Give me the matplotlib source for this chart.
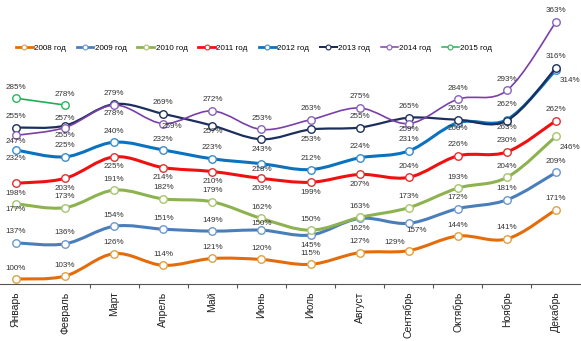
import numpy as np
import matplotlib.pyplot as plt
from matplotlib.path import Path
from matplotlib.patches import PathPatch
from matplotlib.lines import Line2D

plt.rcParams['font.family'] = ['Liberation Sans', 'DejaVu Sans']

months = ['Январь', 'Февраль', 'Март', 'Апрель', 'Май', 'Июнь', 'Июль',
          'Август', 'Сентябрь', 'Октябрь', 'Ноябрь', 'Декабрь']

years = ['2008 год', '2009 год', '2010 год', '2011 год',
         '2012 год', '2013 год', '2014 год', '2015 год']

v2008 = [100, 103, 126, 114, 121, 120, 115, 127, 129, 144, 141, 171]
v2009 = [137, 136, 154, 151, 149, 150, 145, 162, 157, 172, 181, 209]
v2010 = [177, 173, 191, 182, 179, 162, 150, 163, 173, 193, 204, 246]
v2011 = [198, 203, 225, 214, 210, 203, 199, 207, 204, 226, 230, 262]
v2012 = [232, 225, 240, 232, 223, 218, 212, 224, 231, 260, 263, 314]
v2013 = [255, 257, 279, 269, 257, 243, 253, 255, 265, 263, 262, 316]
v2014 = [247, 255, 278, 259, 272, 253, 263, 275, 259, 284, 293, 363]
v2015 = [285, 278]

# положение подписей у каждой точки (коды см. offsets ниже)
p2008 = 'aaaaaaaalaaa'
p2009 = 'aaaaakbbgaaa'
p2010 = 'caaaaaaaaaar'
p2011 = 'bbbbbbbbaaaa'
p2012 = 'daaaacaaacdr'
p2013 = 'akaacbbaaaha'
p2014 = 'cddeaaaacaaa'
p2015 = 'aa'

colors = ['#E46C0A', '#4A7EBB', '#8DB250', '#F01010',
          '#0A72BE', '#1C2F5C', '#7A3FA8', '#1DB055']
edge_colors = ['#DDA240', '#6C98CC', '#A9C46E', '#E03030',
               '#3A8CCB', '#1C2F5C', '#8A62B8', '#2DB35A']
widths = [2.2, 2.2, 2.2, 2.2, 2.2, 1.6, 1.2, 1.2]

series = [v2008, v2009, v2010, v2011, v2012, v2013, v2014, v2015]
places = [p2008, p2009, p2010, p2011, p2012, p2013, p2014, p2015]

# смещение центра подписи от точки, в пикселях (dx, dy вверх)
offsets = {'a': (0, 11), 'b': (0, -10), 'c': (0, -6), 'd': (0, -8),
           'k': (0, 7), 'h': (0, 16), 'r': (14, -11), 'l': (-14, 8),
           'e': (9, -3), 'g': (8, -7)}


def smooth_path(x, y):
    # сглаженная линия через точки (кривые Безье, как "сглаженная линия" в Excel)
    pts = np.column_stack([x, y]).astype(float)
    n = len(pts)
    if n < 3:
        return Path(pts)
    verts = [pts[0]]
    codes = [Path.MOVETO]
    for i in range(n - 1):
        p0 = pts[i - 1] if i > 0 else pts[i]
        p1 = pts[i]
        p2 = pts[i + 1]
        p3 = pts[i + 2] if i + 2 < n else pts[i + 1]
        c1 = p1 + (p2 - p0) / 6.0
        c2 = p2 - (p3 - p1) / 6.0
        verts += [c1, c2, p2]
        codes += [Path.CURVE4] * 3
    return Path(verts, codes)


fig = plt.figure(figsize=(5.81, 3.41), dpi=100)
ax = fig.add_axes([0, 0.1657, 1, 0.8343])

handles = []
for k, vals in enumerate(series):
    x = np.arange(len(vals))
    z = 3 + k
    ax.add_patch(PathPatch(smooth_path(x, vals), facecolor='none',
                           edgecolor=colors[k], lw=widths[k],
                           capstyle='round', joinstyle='round', zorder=z))
    ax.plot(x, vals, linestyle='none', marker='o', markersize=5.4,
            markerfacecolor='white', markeredgecolor=edge_colors[k],
            markeredgewidth=1.0, zorder=z + 0.5)
    for xi, yi, pl in zip(x, vals, places[k]):
        dx, dy = offsets[pl]
        ax.annotate(f'{yi}%', (xi, yi), xytext=(dx * 0.72, dy * 0.72),
                    textcoords='offset points', ha='center', va='center',
                    fontsize=5.8, color='#333333', zorder=20)
    handles.append(Line2D([], [], color=colors[k], lw=widths[k] * 0.9, marker='o',
                          markersize=3.5, markerfacecolor='white',
                          markeredgecolor=edge_colors[k], markeredgewidth=0.8))

ax.set_xlim(-0.326, 11.51)
ax.set_ylim(94.4, 385.5)

ax.set_xticks(range(len(months)))
ax.set_xticklabels(months, rotation=90, fontsize=7.5, color='#222222')
ax.tick_params(axis='x', which='major', length=0, pad=5)
ax.set_xticks(np.arange(1.5, 11.0, 1.0), minor=True)
ax.tick_params(axis='x', which='minor', length=3, width=0.8, color='#555555', direction='out')
ax.set_yticks([])

for s in ['top', 'right', 'left']:
    ax.spines[s].set_visible(False)
ax.spines['bottom'].set_color('#555555')
ax.spines['bottom'].set_linewidth(0.8)

fig.legend(handles, years, loc='center left', bbox_to_anchor=(0.027, 1 - 48 / 341),
           ncol=8, frameon=False, fontsize=5.8, handlelength=2.1, handletextpad=0.15,
           columnspacing=1.35, borderaxespad=0, borderpad=0)

fig.savefig('out.png', dpi=100)
